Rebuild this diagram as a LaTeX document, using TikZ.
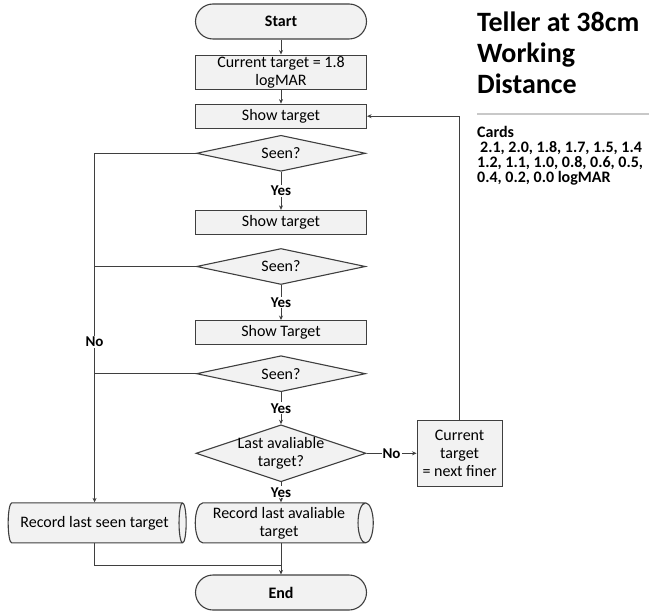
\documentclass[tikz,border=0pt]{standalone}
\usepackage{fontspec}
\setmainfont{Carlito}
\usetikzlibrary{shapes.geometric,arrows.meta,positioning}

\definecolor{boxfill}{HTML}{F2F2F2}
\definecolor{edge}{HTML}{3F3F3F}
\definecolor{rulegray}{HTML}{C8C8C8}

\begin{document}
\begin{tikzpicture}[
    node distance=16pt,
    font=\fontsize{16}{18}\selectfont,
    >={Stealth[length=4.5pt,width=4pt]},
    terminal/.style={rectangle, rounded corners=17.5pt, draw=edge, line width=1.1pt, fill=boxfill, minimum width=171pt, minimum height=35pt, font=\fontsize{16}{18}\selectfont\bfseries},
    process/.style={rectangle, draw=edge, line width=1.1pt, fill=boxfill, minimum width=171pt, minimum height=24pt, align=center, inner sep=1pt},
    decision/.style={diamond, draw=edge, line width=1.1pt, fill=boxfill, minimum width=169pt, minimum height=36pt, aspect=4.7, inner sep=0pt},
    storage/.style={cylinder, draw=edge, line width=1.1pt, fill=boxfill, minimum height=178pt, minimum width=40pt, shape aspect=0.45, align=center, inner sep=1pt},
    flow/.style={draw=edge, line width=0.8pt},
    answer/.style={fill=white, inner sep=1pt, font=\fontsize{15}{17}\selectfont\bfseries}
]
\useasboundingbox (0,0) rectangle (649pt,-612pt);

% main column
\node[terminal] (start) at (281pt,-21.5pt) {Start};
\node[process, minimum height=34pt, below=15pt of start] (cur) {Current target = 1.8\\logMAR};
\node[process, below=14pt of cur] (show1) {Show target};
\node[decision, below=6pt of show1] (d1) {Seen?};
\node[process, below=38pt of d1] (show2) {Show target};
\node[decision, below=13pt of show2] (d2) {Seen?};
\node[process, below=35pt of d2] (show3) {Show Target};
\node[decision, below=10pt of show3] (d3) {Seen?};
\node[decision, minimum width=170pt, minimum height=57pt, below=32pt of d3, label={[align=center]center:Last avaliable\\target?}] (d4) {};
\node[storage, below=20pt of d4, xshift=-2pt] (rec2) {Record last avaliable\\target};
\node[storage, left=8pt of rec2] (rec1) {Record last seen target};
\node[terminal, below=31pt of rec2, xshift=2pt] (end) {End};
\node[process, minimum width=85pt, minimum height=66pt, right=50pt of d4] (finer) {Current\\target\\= next finer};

% side notes
\node[anchor=north west, inner sep=0pt, align=left, font=\fontsize{28}{31}\selectfont\bfseries] (title) at (477pt,-12pt) {Teller at 38cm\\Working\\Distance};
\draw[rulegray, line width=1.2pt] (477pt,-114pt) -- (649pt,-114pt);
\node[anchor=north west, inner sep=0pt, align=left, font=\fontsize{16}{15}\selectfont\bfseries] (cards) at (477pt,-126pt) {Cards\\\hspace*{3pt}2.1, 2.0, 1.8, 1.7, 1.5, 1.4\\1.2, 1.1, 1.0, 0.8, 0.6, 0.5,\\0.4, 0.2, 0.0 logMAR};

% connectors
\draw[flow,->] (start) -- (cur);
\draw[flow,->] (cur) -- (show1);
\draw[flow,->] (d1) -- node[answer]{Yes} (show2);
\draw[flow,->] (d2) -- node[answer]{Yes} (show3);
\draw[flow,->] (d3) -- node[answer]{Yes} (d4);
\draw[flow,->] (d4.south) -- node[answer]{Yes} (rec2.north -| d4.south);
\draw[flow,->] (d4) -- node[answer]{No} (finer);
\draw[flow,->] (finer) |- (show1);
\draw[flow,->] (d1.west) -| node[answer, pos=0.77]{No} (rec1.north);
\draw[flow] (d2.west) -- (d2.west -| rec1.north);
\draw[flow] (d3.west) -- (d3.west -| rec1.north);
\draw[flow,->] (rec2.south -| end.north) -- (end);
\draw[flow] (rec1.south) |- ([yshift=9pt]end.north);
\end{tikzpicture}
\end{document}
